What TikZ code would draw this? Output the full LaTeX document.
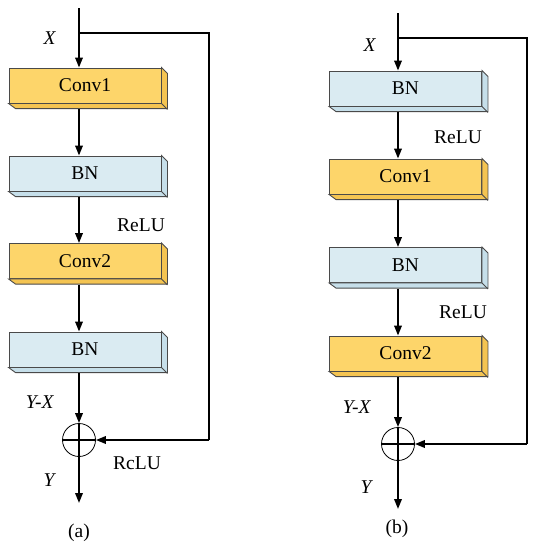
\documentclass[tikz,border=0pt]{standalone}
\usepackage{fontspec}
\setmainfont{Liberation Serif}
\usetikzlibrary{arrows.meta,calc}
\definecolor{yfront}{HTML}{FDD56A}
\definecolor{yside}{HTML}{F4C452}
\definecolor{bfront}{HTML}{DAEBF2}
\definecolor{bside}{HTML}{C6DFEA}
\definecolor{edge}{HTML}{4A4A4A}
\tikzset{
  blk/.style={draw=edge, line width=0.9pt, minimum width=152pt, minimum height=35pt, inner sep=0pt, font=\fontsize{19.5}{21}\selectfont},
  flow/.style={line width=1.9pt, -{Triangle[length=10pt,width=7.5pt]}},
  fb/.style={line width=1.7pt},
  lbl/.style={font=\fontsize{19.5}{21}\selectfont, inner sep=0pt},
  sumc/.style={circle, draw=black, line width=0.8pt, minimum size=33pt, inner sep=0pt},
}
\newcommand{\blkbox}[5]{%
  \node[blk, fill=#5front] (#1) at (#2,#3) {#4};
  \filldraw[fill=#5side, draw=edge, line width=0.9pt] (#1.north east) -- ++(6,6) -- ++(0,35) -- ++(-152,0) -- (#1.south west) -- (#1.south east) -- cycle;
  \draw[edge, line width=0.9pt] (#1.south east) -- ++(6,6);
}
\begin{document}
\begin{tikzpicture}[x=1pt,y=-1pt]
\useasboundingbox (0,0) rectangle (536,550);
% ---------- (a) ----------
\blkbox{aC1}{85}{85.5}{Conv1}{y}
\blkbox{aB1}{85}{173.5}{BN}{b}
\blkbox{aC2}{85}{261}{Conv2}{y}
\blkbox{aB2}{85}{349.5}{BN}{b}
\node[sumc] (aS) at (79,440) {};
\draw[line width=1.4pt] (aS.north) -- (aS.south) (aS.west) -- (aS.east);
\coordinate (aIn) at (79,8);
\coordinate (aBr) at (79,33);
\coordinate (aR1) at (209,33);
\coordinate (aR2) at (209,440);
\coordinate (aOut) at (79,503);
\draw[flow] (aIn) -- (aC1.north -| aIn);
\draw[flow] (aC1.south -| aIn) ++(0,6) -- (aB1.north -| aIn);
\draw[flow] (aB1.south -| aIn) ++(0,6) -- (aC2.north -| aIn);
\draw[flow] (aC2.south -| aIn) ++(0,6) -- (aB2.north -| aIn);
\draw[flow] (aB2.south -| aIn) ++(0,6) -- (aS.north);
\draw[fb] (aBr) -- (aR1) -- (aR2);
\draw[flow] (aR2) -- (aS.east);
\draw[flow] (aS.south) -- (aOut);
\node[lbl] (aX) at (50,38) {\textit{X}};
\node[lbl] (aRe) at (141,225) {ReLU};
\node[lbl] (aYX) at (40,402) {\textit{Y-X}};
\node[lbl] (aRc) at (137,463) {RcLU};
\node[lbl] (aY) at (50,480) {\textit{Y}};
\node[lbl] (aCap) at (79,533) {(a)};
% ---------- (b) ----------
\blkbox{bB1}{405.5}{88.5}{BN}{b}
\blkbox{bC1}{405.5}{176.5}{Conv1}{y}
\blkbox{bB2}{405.5}{265}{BN}{b}
\blkbox{bC2}{405.5}{353.5}{Conv2}{y}
\node[sumc] (bS) at (398,444) {};
\draw[line width=1.4pt] (bS.north) -- (bS.south) (bS.west) -- (bS.east);
\coordinate (bIn) at (398,13);
\coordinate (bBr) at (398,38);
\coordinate (bR1) at (527,38);
\coordinate (bR2) at (527,444);
\coordinate (bOut) at (398,509);
\draw[flow] (bIn) -- (bB1.north -| bIn);
\draw[flow] (bB1.south -| bIn) ++(0,6) -- (bC1.north -| bIn);
\draw[flow] (bC1.south -| bIn) ++(0,6) -- (bB2.north -| bIn);
\draw[flow] (bB2.south -| bIn) ++(0,6) -- (bC2.north -| bIn);
\draw[flow] (bC2.south -| bIn) ++(0,6) -- (bS.north);
\draw[fb] (bBr) -- (bR1) -- (bR2);
\draw[flow] (bR2) -- (bS.east);
\draw[flow] (bS.south) -- (bOut);
\node[lbl] (bX) at (370,45) {\textit{X}};
\node[lbl] (bRe1) at (458,137) {ReLU};
\node[lbl] (bRe2) at (463,312) {ReLU};
\node[lbl] (bYX) at (357,407) {\textit{Y-X}};
\node[lbl] (bY) at (367,487) {\textit{Y}};
\node[lbl] (bCap) at (397,529) {(b)};
\end{tikzpicture}
\end{document}
